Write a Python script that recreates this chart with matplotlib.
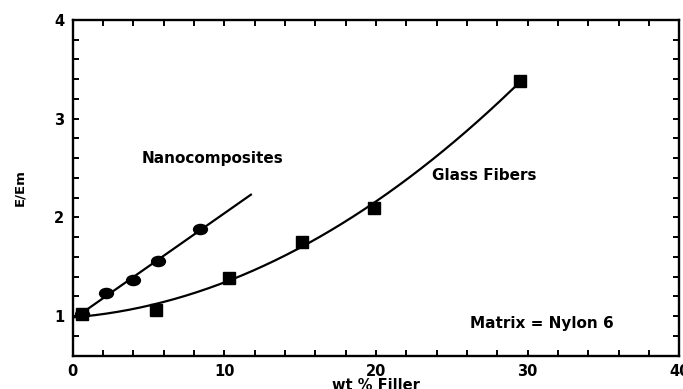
import numpy as np
import matplotlib.pyplot as plt
from matplotlib.ticker import MultipleLocator
from matplotlib.path import Path

# values
nano_x = [0.6, 2.2, 4.0, 5.6, 8.4]
nano_y = [1.02, 1.24, 1.37, 1.56, 1.88]
glass_x = [0.6, 5.5, 10.3, 15.1, 19.86, 29.5]
glass_y = [1.02, 1.06, 1.39, 1.755, 2.10, 3.38]
nano_fit_range = (0.6, 11.75)
glass_fit_range = (0.0, 29.5)

plt.rcParams['font.family'] = ['DejaVu Sans']
plt.rcParams['font.weight'] = 'bold'

fig = plt.figure(figsize=(6.83, 3.89), dpi=100)
ax = fig.add_axes([0.1064, 0.0856, 0.8882, 0.863])

# trend lines fitted to the points
p_nano = np.polyfit(nano_x, nano_y, 1)
xn = np.linspace(*nano_fit_range, 100)
ax.plot(xn, np.polyval(p_nano, xn), color='black', lw=1.6)

p_glass = np.polyfit(glass_x, glass_y, 2)
xg = np.linspace(*glass_fit_range, 200)
ax.plot(xg, np.polyval(p_glass, xg), color='black', lw=1.6)

# the nanocomposite dots are drawn a little flattened
circ = Path.unit_circle()
ellipse = Path(circ.vertices * [1.3, 0.95], circ.codes)
ax.plot(nano_x, nano_y, marker=ellipse, ls='none', color='black', ms=10)
ax.plot(glass_x, glass_y, 's', color='black', ms=8)

ax.set_xlim(0, 40)
ax.set_ylim(0.6, 4)
ax.xaxis.set_major_locator(MultipleLocator(10))
ax.xaxis.set_minor_locator(MultipleLocator(2))
ax.yaxis.set_major_locator(MultipleLocator(1))
ax.yaxis.set_minor_locator(MultipleLocator(0.2))
ax.tick_params(which='both', direction='in', top=True, right=True,
               length=4, width=1.4, labelsize=10.5, pad=6)
for s in ax.spines.values():
    s.set_linewidth(1.7)

ax.set_xlabel('wt % Filler', fontsize=10.5, fontweight='bold', labelpad=-1)
ax.set_ylabel('E/Em', fontsize=9.5, fontweight='bold', labelpad=20)

ax.text(4.55, 2.6, 'Nanocomposites', fontsize=11, fontweight='bold', va='center')
ax.text(23.7, 2.43, 'Glass Fibers', fontsize=11, fontweight='bold', va='center')
ax.text(26.2, 0.93, 'Matrix = Nylon 6', fontsize=11, fontweight='bold', va='center')

fig.savefig('out.png', dpi=100)
